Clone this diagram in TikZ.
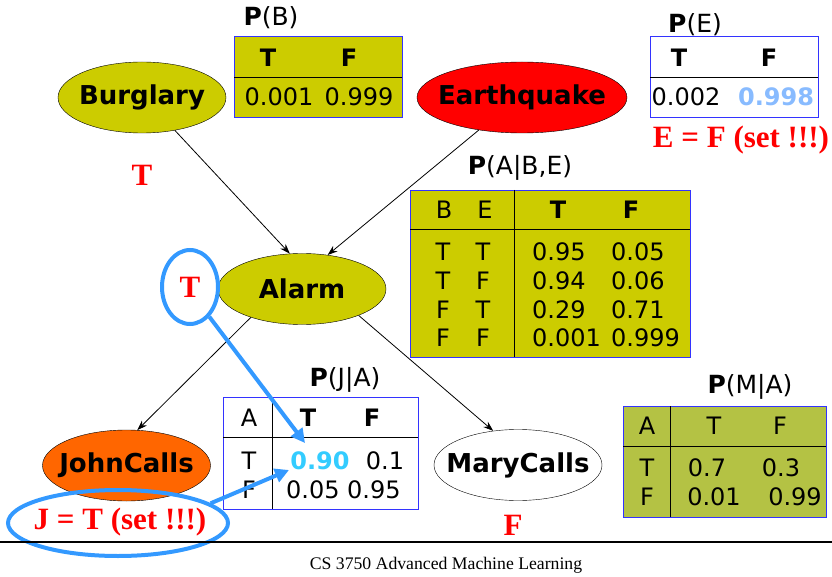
\documentclass[tikz,border=0pt]{standalone}
\usepackage{fontspec}
\setmainfont{DejaVu Sans}
\newfontfamily\timesfont{Liberation Serif}
\usepackage{tikz}
\usetikzlibrary{shapes.geometric, arrows, arrows.meta, positioning, calc}
\definecolor{nodeolive}{HTML}{CCCC00}
\definecolor{maryolive}{HTML}{B4C244}
\definecolor{johnorange}{HTML}{FF6600}
\definecolor{cptblue}{HTML}{3333FF}
\definecolor{setblue}{HTML}{3399FF}
\definecolor{hitcyan}{HTML}{33CCFF}
\definecolor{hitblue}{HTML}{88BBFF}
\tikzstyle{arrow} = [line width=0.8pt, -{Stealth[length=10pt,width=7pt]}]
\tikzstyle{setarrow} = [line width=4pt, draw=setblue, -{Triangle[length=14pt,width=14pt]}]

\begin{document}
\begin{tikzpicture}[x=1pt, y=-1pt,
    varnode/.style={ellipse, draw, inner sep=0pt, minimum width=168pt, minimum height=71pt, font=\bfseries\fontsize{26}{29}\selectfont},
    cpt/.style={rectangle, draw=cptblue, line width=0.8pt, fill=nodeolive, inner sep=0pt},
    cell/.style={inner sep=0pt, font=\fontsize{24}{27}\selectfont},
    hcell/.style={cell, font=\bfseries\fontsize{24}{27}\selectfont},
    cpttitle/.style={inner sep=0pt, font=\fontsize{25}{28}\selectfont},
    redval/.style={inner sep=0pt, text=red, font=\timesfont\bfseries\fontsize{31}{34}\selectfont},
    setring/.style={ellipse, draw=setblue, line width=4pt}
  ]
    \useasboundingbox (0,0) rectangle (832,577);

    % Network
    \node[varnode, fill=nodeolive] (burglary) at (142,97.5) {\makebox[0pt]{Burglary}};
    \node[varnode, fill=red, minimum width=210pt] (quake) at (522,97.5) {\makebox[0pt]{Earthquake}};
    \node[varnode, fill=nodeolive] (alarm) at (302,289) {\makebox[0pt]{Alarm}};
    \node[varnode, fill=johnorange] (john) at (126.5,465.5) {\makebox[0pt]{JohnCalls}};
    \node[varnode, fill=white] (mary) at (518,465) {\makebox[0pt]{MaryCalls}};

    \draw[arrow] (burglary.-45) -- (alarm.109);
    \draw[arrow] (quake.-143.5) -- (alarm.53);
    \draw[arrow] (alarm.-151) -- (john.73);
    \draw[arrow] (alarm.-25) -- (mary.126);

    % P(B)
    \node[cpttitle] (pbtitle) at (271,18) {\textbf{P}(B)};
    \node[cpt, minimum width=168pt, minimum height=81pt] (pb) at (318,76.5) {};
    \draw (234,77) -- (402,77);
    \node[hcell] (pbHT) at (268,58) {T};
    \node[hcell] (pbHF) at (349,58) {F};
    \node[cell] (pbVT) at (279,97) {0.001};
    \node[cell] (pbVF) at (359,97) {0.999};

    % P(E)
    \node[cpttitle] (petitle) at (695,25) {\textbf{P}(E)};
    \node[cpt, fill=white, minimum width=168pt, minimum height=81pt] (pe) at (734,76.5) {};
    \draw (650,77) -- (818,77);
    \node[hcell] (peHT) at (679,58) {T};
    \node[hcell] (peHF) at (769,58) {F};
    \node[cell] (peVT) at (686,97) {0.002};
    \node[hcell, text=hitblue] (peVF) at (776,97) {0.998};
    \node[redval] (eset) at (741,140) {E = F (set !!!)};

    % P(A|B,E)
    \node[cpttitle] (patitle) at (520,168) {\textbf{P}(A|B,E)};
    \node[cpt, minimum width=280pt, minimum height=167pt] (pa) at (550,273.5) {};
    \draw (514,190) -- (514,357);
    \draw (410,229) -- (690,229);
    \node[cell] (paHB) at (444,210) {B};
    \node[cell] (paHE) at (485,210) {E};
    \node[hcell] (paHT) at (558,210) {T};
    \node[hcell] (paHF) at (631,210) {F};
    \foreach \b/\e/\t/\f [count=\i] in {T/T/0.95/0.05, T/F/0.94/0.06, F/T/0.29/0.71, F/F/0.001/0.999} {
      \node[cell] (paB\i) at (443,{252+28.7*(\i-1)}) {\b};
      \node[cell] (paE\i) at (483,{252+28.7*(\i-1)}) {\e};
      \node[cell, anchor=west] (paT\i) at (532,{252+28.7*(\i-1)}) {\t};
      \node[cell, anchor=west] (paF\i) at (611,{252+28.7*(\i-1)}) {\f};
    }

    % P(J|A)
    \node[cpttitle] (pjtitle) at (345,380) {\textbf{P}(J|A)};
    \node[cpt, fill=white, minimum width=195pt, minimum height=112pt] (pj) at (320.5,453) {};
    \draw (272,397) -- (272,509);
    \draw (223,437) -- (418,437);
    \node[cell] (pjHA) at (249,418) {A};
    \node[hcell] (pjHT) at (308,418) {T};
    \node[hcell] (pjHF) at (372,418) {F};
    \node[cell] (pjA1) at (249,461) {T};
    \node[cell] (pjA2) at (249,490) {F};
    \node[hcell, text=hitcyan] (pjT1) at (320,461) {0.90};
    \node[cell] (pjF1) at (385,461) {0.1};
    \node[cell, anchor=west] (pjT2) at (286,490) {0.05};
    \node[cell, anchor=west] (pjF2) at (347,490) {0.95};

    % P(M|A)
    \node[cpttitle] (pmtitle) at (750,387) {\textbf{P}(M|A)};
    \node[cpt, fill=maryolive, minimum width=203pt, minimum height=111pt] (pm) at (724.5,461.5) {};
    \draw (670,406) -- (670,517);
    \draw (623,446) -- (826,446);
    \node[cell] (pmHA) at (647,426) {A};
    \node[cell] (pmHT) at (714,426) {T};
    \node[cell] (pmHF) at (780,426) {F};
    \node[cell] (pmA1) at (647,468) {T};
    \node[cell] (pmA2) at (647,497) {F};
    \node[cell] (pmT1) at (707,468) {0.7};
    \node[cell] (pmF1) at (781,468) {0.3};
    \node[cell] (pmT2) at (714,497) {0.01};
    \node[cell] (pmF2) at (795,497) {0.99};

    % evidence
    \node[redval] (bset) at (142,175) {T};
    \node[redval] (aset) at (190,287) {T};
    \node[setring, minimum width=56pt, minimum height=74pt] (aring) at (190,287) {};
    \node[redval] (jset) at (120,522) {J = T (set !!!)};
    \node[setring, minimum width=220pt, minimum height=66pt] (jring) at (118,523) {};
    \node[redval] (mset) at (513,525) {F};

    \coordinate (ahit) at (305,443);
    \coordinate (jhit) at (289,470);
    \draw[setarrow] (aring.-57) -- (ahit);
    \draw[setarrow] (jring.12) -- (jhit);

    % footer
    \draw[line width=1.2pt] (0,542) -- (832,542);
    \node[font=\timesfont\fontsize{17.7}{20}\selectfont] (footer) at (446,565) {CS 3750 Advanced Machine Learning};
  \end{tikzpicture}
\end{document}
